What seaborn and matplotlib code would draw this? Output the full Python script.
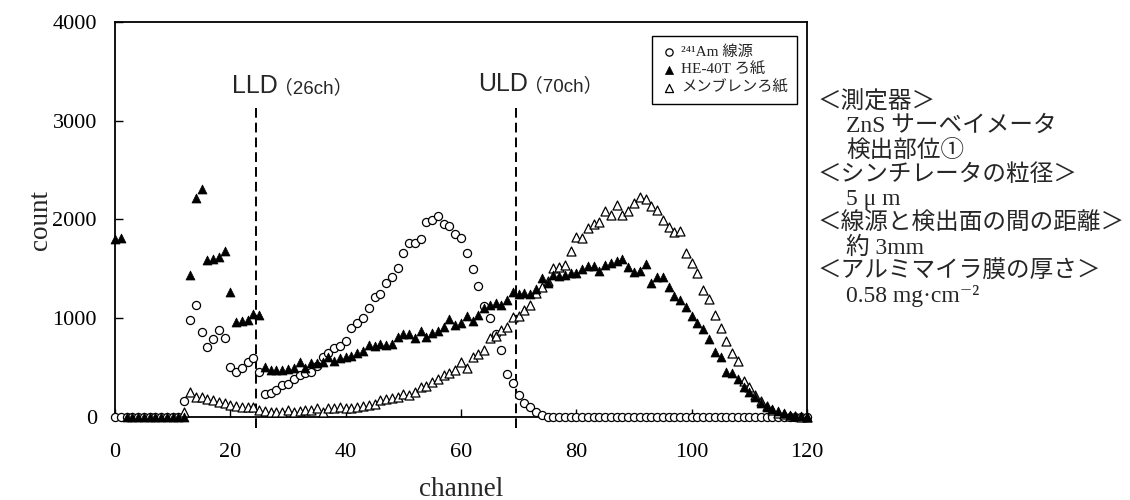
import matplotlib
matplotlib.use('Agg')
import matplotlib.pyplot as plt
from matplotlib.font_manager import FontProperties
import numpy as np
import pandas as pd
import seaborn as sns

nan = np.nan

# channel 0..120
channel = list(range(0, 121))

# 241Am source (open circles)
am241 = [0, 0, 0, 0, 0, 0, 0, 0, 0, 0,
         0, 0, 160, 982, 1137, 857, 712, 790, 881, 797,
         503, 459, 493, 560, 594, 459, 233, 243, 273, 324,
         334, 381, 425, 449, 459, 516, 611, 645, 702, 719,
         773, 905, 949, 1006, 1100, 1218, 1246, 1354, 1414, 1506,
         1658, 1765, 1765, 1799, 1971, 1995, 2036, 1954, 1934, 1850,
         1810, 1660, 1495, 1325, 1125, 998, 840, 678, 435, 345,
         223, 145, 105, 50, 20, 5, 0, 0, 0, 0,
         0, 0, 0, 0, 0, 0, 0, 0, 0, 0,
         0, 0, 0, 0, 0, 0, 0, 0, 0, 0,
         0, 0, 0, 0, 0, 0, 0, 0, 0, 0,
         0, 0, 0, 0, 0, 0, 0, 0, 0, 0,
         0]

# HE-40T filter (filled triangles)
he40t = [1800, 1810, 0, 0, 0, 0, 0, 0, 0, 0,
         0, 0, 0, 1438, 2214, 2305, 1590, 1597, 1623, 1684,
         1269, 965, 975, 982, 1043, 1033, 510, 480, 472, 476,
         486, 493, 560, 500, 544, 550, 560, 611, 571, 594,
         604, 618, 645, 672, 729, 719, 739, 729, 739, 807,
         841, 841, 797, 874, 814, 855, 871, 910, 995, 930,
         955, 1020, 973, 1036, 1105, 1134, 1150, 1130, 1188, 1269,
         1250, 1252, 1245, 1300, 1411, 1361, 1438, 1428, 1438, 1455,
         1462, 1495, 1529, 1529, 1482, 1539, 1556, 1583, 1597, 1522,
         1472, 1475, 1552, 1361, 1415, 1414, 1320, 1225, 1185, 1117,
         1023, 949, 888, 787, 662, 604, 459, 442, 382, 307,
         256, 199, 138, 105, 78, 61, 37, 20, 13, 10,
         3]

# membrane filter (open triangles)
membrane = [nan, nan, nan, nan, nan, nan, nan, nan, nan, nan,
            nan, nan, 50, 257, 206, 199, 179, 172, 155, 138,
            122, 111, 105, 98, 105, 71, 64, 54, 55, 54,
            71, 54, 64, 71, 71, 88, 54, 88, 88, 98,
            88, 88, 98, 111, 122, 132, 172, 179, 189, 199,
            233, 223, 256, 300, 314, 358, 381, 425, 449, 476,
            560, 500, 604, 640, 679, 797, 820, 881, 908, 1016,
            1023, 1083, 1134, 1259, 1320, 1380, 1506, 1519, 1536, 1684,
            1819, 1809, 1910, 1954, 1971, 2089, 2046, 2147, 2046, 2089,
            2164, 2224, 2207, 2136, 2096, 1995, 1921, 1877, 1887, 1658,
            1563, 1455, 1286, 1195, 1033, 898, 773, 651, 570, 368,
            307, 223, 165, 111, 71, 37, 27, 13, 10, 3,
            3]

series_labels = ['²⁴¹Am 線源', 'HE-40T ろ紙', 'メンブレンろ紙']
lld, uld = 24.5, 69.5
notes = ['＜測定器＞', 'ZnS サーベイメータ', '検出部位①',
         '＜シンチレータの粒径＞', '5 μ m',
         '＜線源と検出面の間の距離＞', '約 3mm',
         '＜アルミマイラ膜の厚さ＞', '0.58 mg·cm⁻²']
note_indent = [0, 1, 1, 0, 1, 0, 1, 0, 1]

sns.set_style('ticks')
serif = ['Liberation Serif', 'Noto Sans CJK JP', 'DejaVu Serif']
sans = ['Liberation Sans', 'Noto Sans CJK JP', 'DejaVu Sans']
plt.rcParams['font.family'] = serif
plt.rcParams['axes.unicode_minus'] = False

df = pd.DataFrame({'channel': channel, 'am': am241, 'he': he40t, 'mem': membrane})

fig = plt.figure(figsize=(11.3, 5), dpi=100)
ax = fig.add_axes([115 / 1130, 83 / 500, 692 / 1130, 395 / 500])

sns.scatterplot(data=df, x='channel', y='am', marker='o', s=34, color='white',
                edgecolor='black', linewidth=0.9, label=series_labels[0],
                clip_on=False, zorder=3, ax=ax)
sns.scatterplot(data=df, x='channel', y='mem', marker='^', s=42, color='white',
                edgecolor='black', linewidth=0.9, label=series_labels[2],
                clip_on=False, zorder=4, ax=ax)
sns.scatterplot(data=df, x='channel', y='he', marker='^', s=42, color='black',
                edgecolor='black', linewidth=0.5, label=series_labels[1],
                clip_on=False, zorder=5, ax=ax)

ax.set_xlim(0, 120)
ax.set_ylim(0, 4000)
ax.set_xticks(range(0, 121, 20))
ax.set_yticks(range(0, 4001, 1000))
ax.set_xlabel('')
ax.set_ylabel('')
ax.tick_params(direction='in', length=5.5, width=1, labelsize=16, colors='black')
ax.tick_params(axis='x', pad=19)
ax.tick_params(axis='y', pad=13)
for sp in ax.spines.values():
    sp.set_linewidth(1.3)
    sp.set_color('black')

# discriminator levels
for lv in (lld, uld):
    ax.plot([lv, lv], [-111, 3129], color='black', lw=1.4, ls=(0, (5, 2.6)),
            clip_on=False, zorder=2)
ax.text(20.3, 3284, 'LLD', fontsize=18, family=sans, va='baseline')
ax.text(27.5, 3284, '（26ch）', fontsize=13.5, family=sans, va='baseline')
ax.text(62.9, 3300, 'ULD', fontsize=18, family=sans, va='baseline')
ax.text(70.9, 3300, '（70ch）', fontsize=13.5, family=sans, va='baseline')

# legend in order
h, l = ax.get_legend_handles_labels()
order = [l.index(s) for s in series_labels]
leg = ax.legend([h[i] for i in order], [l[i] for i in order],
                loc='upper left', bbox_to_anchor=(652 / 1130, 1 - 36 / 500),
                bbox_transform=fig.transFigure, borderaxespad=0,
                prop=FontProperties(family=serif, size=11),
                frameon=True, fancybox=False, edgecolor='black', framealpha=1,
                handletextpad=0.3, handlelength=1.0, labelspacing=0.25,
                borderpad=0.6, markerscale=0.9)
leg.get_frame().set_linewidth(1.0)

# axis titles
fig.text(461 / 1130, 4 / 500, 'channel', ha='center', va='baseline', fontsize=19.5)
fig.text(40 / 1130, 1 - 220 / 500, 'count', ha='center', va='center',
         rotation=90, fontsize=19.5)

# measurement notes
for i, (txt, ind) in enumerate(zip(notes, note_indent)):
    xpx = 818 if ind == 0 else 846
    ypx = 102 + i * 24.3
    fig.text(xpx / 1130, 1 - ypx / 500, txt, ha='left', va='center',
             fontsize=17, family=serif)

fig.savefig('out.png', dpi=100)
